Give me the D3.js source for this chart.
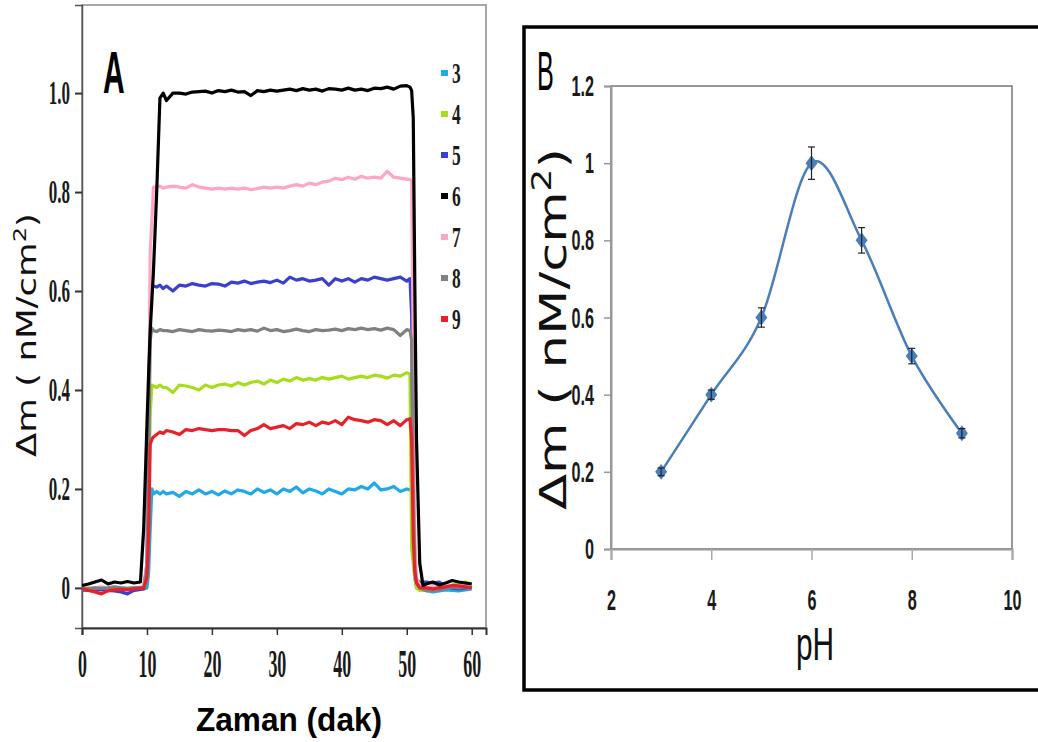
<!DOCTYPE html>
<html>
<head>
<meta charset="utf-8">
<script src="https://cdn.jsdelivr.net/npm/d3@7"></script>
<style>
  body { margin: 0; background: #fff; }
  svg { display: block; }
</style>
</head>
<body>
<div id="chart"></div>
<script>
// --- DATA: panel A (time traces, minutes) ---
const timeMin = [0, 1, 2, 3, 4, 5, 6, 7, 8, 9,
  9.5, 10, 10.25, 10.5, 10.75, 11, 11.5, 12, 12.5,
  13, 14, 15, 16, 17, 18, 19, 20, 21, 22, 23, 24, 25, 26, 27, 28, 29, 30, 31,
  32, 33, 34, 35, 36, 37, 38, 39, 40, 41, 42, 43, 44, 45, 46, 47, 48, 49, 50,
  50.5, 50.75, 51, 51.25, 51.5, 52, 52.5,
  53, 54, 55, 56, 57, 58, 59, 60];

const tracePH3 = [-0.004, -0.003, 0.0, -0.002, -0.004, -0.003, 0.0, -0.002, -0.004, -0.003,
  -0.002, 0.0, 0.03, 0.12, 0.2, 0.19, 0.195, 0.19, 0.195,
  0.19, 0.193, 0.185, 0.195, 0.19, 0.198, 0.19, 0.195, 0.188, 0.196, 0.19, 0.198, 0.195, 0.19, 0.2, 0.193, 0.198, 0.19, 0.2,
  0.195, 0.204, 0.192, 0.2, 0.196, 0.19, 0.2, 0.195, 0.19, 0.2, 0.198, 0.205, 0.2, 0.212, 0.198, 0.2, 0.205, 0.195, 0.2,
  0.198, 0.2, 0.07, 0.02, 0.0, -0.002, -0.004,
  -0.005, -0.008, -0.006, -0.004, -0.005, -0.006, -0.004, -0.002];

const tracePH4 = [-0.002, 0.0, -0.003, 0.0, -0.002, 0.0, -0.003, -0.001, 0.0, -0.002,
  0.0, 0.02, 0.15, 0.35, 0.41, 0.408, 0.405, 0.41, 0.405,
  0.405, 0.395, 0.41, 0.408, 0.405, 0.4, 0.41, 0.405, 0.41, 0.412, 0.408, 0.415, 0.41, 0.415, 0.418, 0.412, 0.42, 0.415, 0.422,
  0.418, 0.425, 0.42, 0.423, 0.42, 0.425, 0.422, 0.425, 0.428, 0.422, 0.425, 0.428, 0.425, 0.43, 0.428, 0.424, 0.43, 0.428, 0.435,
  0.432, 0.08, 0.05, 0.02, 0.0, -0.005, -0.005,
  -0.004, -0.002, 0.0, 0.002, 0.005, 0.01, 0.012, 0.008];

const tracePH5 = [-0.004, -0.005, -0.003, -0.004, -0.005, -0.006, -0.008, -0.012, -0.005, -0.003,
  -0.002, 0.05, 0.3, 0.58, 0.61, 0.61, 0.608, 0.612, 0.605,
  0.61, 0.6, 0.612, 0.61, 0.615, 0.612, 0.61, 0.615, 0.614, 0.61, 0.618, 0.616, 0.62, 0.615, 0.618, 0.62, 0.617, 0.622, 0.616,
  0.628, 0.622, 0.625, 0.62, 0.622, 0.625, 0.612, 0.625, 0.62, 0.625, 0.618, 0.625, 0.622, 0.628, 0.625, 0.622, 0.625, 0.628, 0.62,
  0.625, 0.55, 0.2, 0.05, 0.015, 0.012, 0.012,
  0.012, 0.01, 0.012, 0.002, 0.0, -0.002, 0.0, 0.002];

const tracePH6 = [0.005, 0.008, 0.012, 0.016, 0.008, 0.012, 0.01, 0.013, 0.01, 0.012,
  0.12, 0.33, 0.43, 0.52, 0.58, 0.64, 0.8, 0.99, 1.0,
  0.985, 1.0, 1.0, 0.998, 1.002, 1.003, 1.004, 1.0, 1.005, 1.003, 1.006, 1.002, 1.003, 0.995, 1.005, 1.003, 1.006, 1.004, 1.006,
  1.008, 1.005, 1.009, 1.006, 1.008, 1.004, 1.009, 1.008, 1.006, 1.01, 1.006, 1.008, 1.005, 1.01, 1.009, 1.012, 1.008, 1.014, 1.015,
  1.012, 1.005, 0.95, 0.6, 0.3, 0.05, 0.005,
  0.008, 0.012, 0.006, 0.01, 0.015, 0.012, 0.01, 0.008];

const tracePH7 = [-0.002, -0.001, 0.0, 0.002, 0.0, 0.001, 0.0, -0.001, 0.0, 0.001,
  0.002, 0.05, 0.3, 0.68, 0.74, 0.81, 0.81, 0.812, 0.808,
  0.81, 0.812, 0.81, 0.808, 0.815, 0.81, 0.808, 0.806, 0.808, 0.806, 0.808, 0.806, 0.808, 0.805, 0.807, 0.81, 0.808, 0.81, 0.808,
  0.812, 0.815, 0.812, 0.818, 0.815, 0.82, 0.822, 0.828, 0.825, 0.83, 0.826, 0.832, 0.828, 0.83, 0.828, 0.842, 0.83, 0.828, 0.826,
  0.825, 0.82, 0.5, 0.1, 0.02, 0.005, 0.002,
  0.0, 0.002, 0.0, 0.003, 0.005, 0.004, 0.006, 0.004];

const tracePH8 = [0.0, -0.002, 0.0, -0.001, 0.0, 0.002, 0.0, -0.001, 0.0, 0.001,
  0.0, 0.04, 0.25, 0.5, 0.525, 0.52, 0.518, 0.522, 0.52,
  0.52, 0.518, 0.522, 0.52, 0.518, 0.522, 0.52, 0.519, 0.521, 0.52, 0.518, 0.522, 0.52, 0.522, 0.519, 0.525, 0.52, 0.522, 0.518,
  0.52, 0.523, 0.52, 0.518, 0.522, 0.52, 0.521, 0.523, 0.52, 0.524, 0.522, 0.525, 0.522, 0.524, 0.521, 0.525, 0.522, 0.51, 0.522,
  0.52, 0.5, 0.2, 0.04, 0.01, 0.0, -0.003,
  -0.006, -0.005, -0.004, 0.0, 0.002, 0.0, 0.002, 0.0];

const tracePH9 = [-0.002, -0.005, -0.008, -0.012, -0.006, -0.004, -0.003, -0.004, -0.002, -0.001,
  0.0, 0.02, 0.1, 0.29, 0.3, 0.305, 0.31, 0.315, 0.312,
  0.318, 0.315, 0.31, 0.32, 0.318, 0.322, 0.32, 0.318, 0.32, 0.32, 0.318, 0.318, 0.308, 0.318, 0.322, 0.33, 0.322, 0.325, 0.328,
  0.322, 0.332, 0.33, 0.335, 0.328, 0.335, 0.332, 0.338, 0.33, 0.345, 0.34, 0.338, 0.335, 0.34, 0.338, 0.33, 0.338, 0.328, 0.34,
  0.342, 0.3, 0.1, 0.03, 0.01, 0.0, 0.0,
  0.0, -0.002, 0.0, 0.002, 0.005, 0.004, 0.002, 0.0];

const legendLabels = ["3", "4", "5", "6", "7", "8", "9"];
const traceColors = ["#1fa9e6", "#a6dd1c", "#3b3fd0", "#000000", "#ffa6c4", "#808080", "#e8202a"];
const traces = [tracePH3, tracePH4, tracePH5, tracePH6, tracePH7, tracePH8, tracePH9];
const drawOrder = [0, 1, 2, 4, 5, 6, 3]; // schwarz zuletzt, liegt oben

const ticksA_x = [0, 10, 20, 30, 40, 50, 60];
const ticksA_y = [0, 0.2, 0.4, 0.6, 0.8, 1.0];
const tickLabelsA_y = ["0", "0.2", "0.4", "0.6", "0.8", "1.0"];

// --- DATA: panel B (pH response) ---
const pHValues = [3, 4, 5, 6, 7, 8, 9];
const deltaM = [0.2, 0.4, 0.6, 1.0, 0.8, 0.5, 0.3];
const deltaErr = [0.01, 0.012, 0.025, 0.042, 0.033, 0.02, 0.012];
const ticksB_x = [2, 4, 6, 8, 10];
const ticksB_y = [0, 0.2, 0.4, 0.6, 0.8, 1.0, 1.2];

// --- KONFIGURATION ---
const width = 1038, height = 742;
const svg = d3.select("#chart").append("svg")
  .attr("width", width)
  .attr("height", height);

// schmal gestauchter Text (Original ist vertikal gestreckt)
function squeezed(g, x, y, txt, sx) {
  return g.append("text")
    .attr("transform", `translate(${x},${y}) scale(${sx},1)`)
    .text(txt);
}

// y-Achsentitel mit hochgestellter 2
function massLabel(g, x, y, size, len) {
  const t = g.append("text")
    .attr("transform", `translate(${x},${y}) rotate(-90)`)
    .attr("text-anchor", "middle")
    .attr("font-family", "'DejaVu Sans', Verdana, sans-serif")
    .attr("font-size", size).attr("fill", "#111")
    .attr("textLength", len).attr("lengthAdjust", "spacingAndGlyphs");
  t.append("tspan").text("Δm ( nM/cm");
  t.append("tspan").attr("font-size", size * 0.68).attr("baseline-shift", "super").text("2");
  t.append("tspan").text(")");
  return t;
}

// ================= PANEL A =================
const xA = d3.scaleLinear().domain([0, 62.2]).range([82, 486]);
const yA = d3.scaleLinear().domain([-0.081, 1.178]).range([628, 5]);

const gA = svg.append("g");

gA.append("rect")
  .attr("x", xA.range()[0]).attr("y", yA.range()[1])
  .attr("width", xA.range()[1] - xA.range()[0])
  .attr("height", yA.range()[0] - yA.range()[1])
  .attr("fill", "none").attr("stroke", "#8a8a8a").attr("stroke-width", 1.5);

const sxA = 0.5;
const yAxisA = gA.append("g")
  .attr("transform", `translate(${xA.range()[0]},0)`)
  .call(d3.axisLeft(yA).tickValues(ticksA_y)
    .tickFormat((d, i) => tickLabelsA_y[i]).tickSize(7));
yAxisA.select(".domain").attr("stroke", "#555").attr("stroke-width", 1.5);
yAxisA.selectAll(".tick line").attr("stroke", "#333").attr("stroke-width", 2);
yAxisA.selectAll(".tick text")
  .attr("font-family", "'Liberation Serif', 'Times New Roman', serif")
  .attr("font-weight", "bold")
  .attr("font-size", 34).attr("fill", "#1a1a1a")
  .attr("x", -12 / sxA)
  .attr("transform", `scale(${sxA},1)`);

const sxAx = 0.46;
const xAxisA = gA.append("g")
  .attr("transform", `translate(0,${yA.range()[0]})`)
  .call(d3.axisBottom(xA).tickValues(ticksA_x).tickSize(7));
xAxisA.select(".domain").attr("stroke", "#333").attr("stroke-width", 2);
xAxisA.selectAll(".tick line").attr("stroke", "#333").attr("stroke-width", 1.5);
xAxisA.selectAll(".tick text")
  .attr("font-family", "'Liberation Serif', 'Times New Roman', serif")
  .attr("font-weight", "bold")
  .attr("font-size", 39).attr("fill", "#1a1a1a")
  .attr("y", 49).attr("dy", null)
  .attr("transform", `scale(${sxAx},1)`);

const lineA = d3.line()
  .x((d, i) => xA(timeMin[i]))
  .y(d => yA(d));

gA.append("g").selectAll("path")
  .data(drawOrder)
  .join("path")
  .attr("d", k => lineA(traces[k]))
  .attr("fill", "none")
  .attr("stroke", k => traceColors[k])
  .attr("stroke-width", 3.2)
  .attr("stroke-linejoin", "round");

// Legende
const legA = gA.append("g").attr("transform", "translate(441,73)");
legendLabels.forEach((lab, i) => {
  const row = legA.append("g").attr("transform", `translate(0,${i * 41})`);
  row.append("rect").attr("x", 0).attr("y", -3).attr("width", 7).attr("height", 6)
    .attr("fill", traceColors[i]);
  squeezed(row, 11, 10, lab, 0.58)
    .attr("font-family", "'Liberation Serif', 'Times New Roman', serif")
    .attr("font-weight", "bold")
    .attr("font-size", 30).attr("fill", "#1a1a1a");
});

squeezed(gA, 103, 93, "A", 0.5)
  .attr("font-family", "'Liberation Sans', Arial, sans-serif")
  .attr("font-weight", "bold").attr("font-size", 60).attr("fill", "#000");

squeezed(gA, 289, 731, "Zaman (dak)", 0.93)
  .attr("text-anchor", "middle")
  .attr("font-family", "'Liberation Sans', Arial, sans-serif")
  .attr("font-weight", "bold").attr("font-size", 34).attr("fill", "#000");

massLabel(gA, 36, 335, 26, 244);

// ================= PANEL B =================
const gB = svg.append("g");

gB.append("rect")
  .attr("x", 524).attr("y", 27).attr("width", 530).attr("height", 663)
  .attr("fill", "none").attr("stroke", "#000").attr("stroke-width", 3.5);

const xB = d3.scaleLinear().domain([2, 10]).range([611, 1012]);
const yB = d3.scaleLinear().domain([0, 1.2]).range([549, 86]);

gB.append("rect")
  .attr("x", xB.range()[0]).attr("y", yB.range()[1])
  .attr("width", xB.range()[1] - xB.range()[0])
  .attr("height", yB.range()[0] - yB.range()[1])
  .attr("fill", "none").attr("stroke", "#777").attr("stroke-width", 1.5);

const sxB = 0.54;
const yAxisB = gB.append("g")
  .attr("transform", `translate(${xB.range()[0]},0)`)
  .call(d3.axisLeft(yB).tickValues(ticksB_y)
    .tickFormat(d => String(+d.toFixed(1))).tickSize(7));
yAxisB.select(".domain").attr("stroke", "#999").attr("stroke-width", 2);
yAxisB.selectAll(".tick line").attr("stroke", "#999").attr("stroke-width", 1.5);
yAxisB.selectAll(".tick text")
  .attr("font-family", "'Liberation Sans', Arial, sans-serif")
  .attr("font-weight", "bold")
  .attr("font-size", 30).attr("fill", "#1a1a1a")
  .attr("x", -17 / sxB)
  .attr("transform", `scale(${sxB},1)`);

const xAxisB = gB.append("g")
  .attr("transform", `translate(0,${yB.range()[0]})`)
  .call(d3.axisBottom(xB).tickValues(ticksB_x).tickSize(11));
xAxisB.select(".domain").attr("stroke", "#999").attr("stroke-width", 2);
xAxisB.selectAll(".tick line").attr("stroke", "#aaa").attr("stroke-width", 1.5);
xAxisB.selectAll(".tick text")
  .attr("font-family", "'Liberation Sans', Arial, sans-serif")
  .attr("font-weight", "bold")
  .attr("font-size", 30).attr("fill", "#1a1a1a")
  .attr("y", 61).attr("dy", null)
  .attr("transform", `scale(${sxB},1)`);

const blue = "#4a7ebb";
const lineB = d3.line()
  .x((d, i) => xB(pHValues[i]))
  .y(d => yB(d))
  .curve(d3.curveCardinal.tension(0));

gB.append("path")
  .attr("d", lineB(deltaM))
  .attr("fill", "none").attr("stroke", blue).attr("stroke-width", 2.5);

const diamond = d3.symbol(d3.symbolDiamond, 80);
gB.append("g").selectAll("path")
  .data(deltaM)
  .join("path")
  .attr("transform", (d, i) => `translate(${xB(pHValues[i])},${yB(d)}) scale(1.25,0.95)`)
  .attr("d", diamond)
  .attr("fill", blue);

const errG = gB.append("g").attr("stroke", "#222").attr("stroke-width", 1.2);
deltaM.forEach((v, i) => {
  const x = xB(pHValues[i]);
  const y0 = yB(v - deltaErr[i]), y1 = yB(v + deltaErr[i]);
  errG.append("line").attr("x1", x).attr("x2", x).attr("y1", y0).attr("y2", y1);
  errG.append("line").attr("x1", x - 3.5).attr("x2", x + 3.5).attr("y1", y0).attr("y2", y0);
  errG.append("line").attr("x1", x - 3.5).attr("x2", x + 3.5).attr("y1", y1).attr("y2", y1);
});

squeezed(gB, 537, 90, "B", 0.45)
  .attr("font-family", "'Liberation Sans', Arial, sans-serif")
  .attr("font-size", 56).attr("fill", "#000");

squeezed(gB, 815, 660, "pH", 0.65)
  .attr("text-anchor", "middle")
  .attr("font-family", "'Liberation Sans', Arial, sans-serif")
  .attr("font-size", 46).attr("fill", "#111");

massLabel(gB, 566, 329, 38, 362);
</script>
</body>
</html>
